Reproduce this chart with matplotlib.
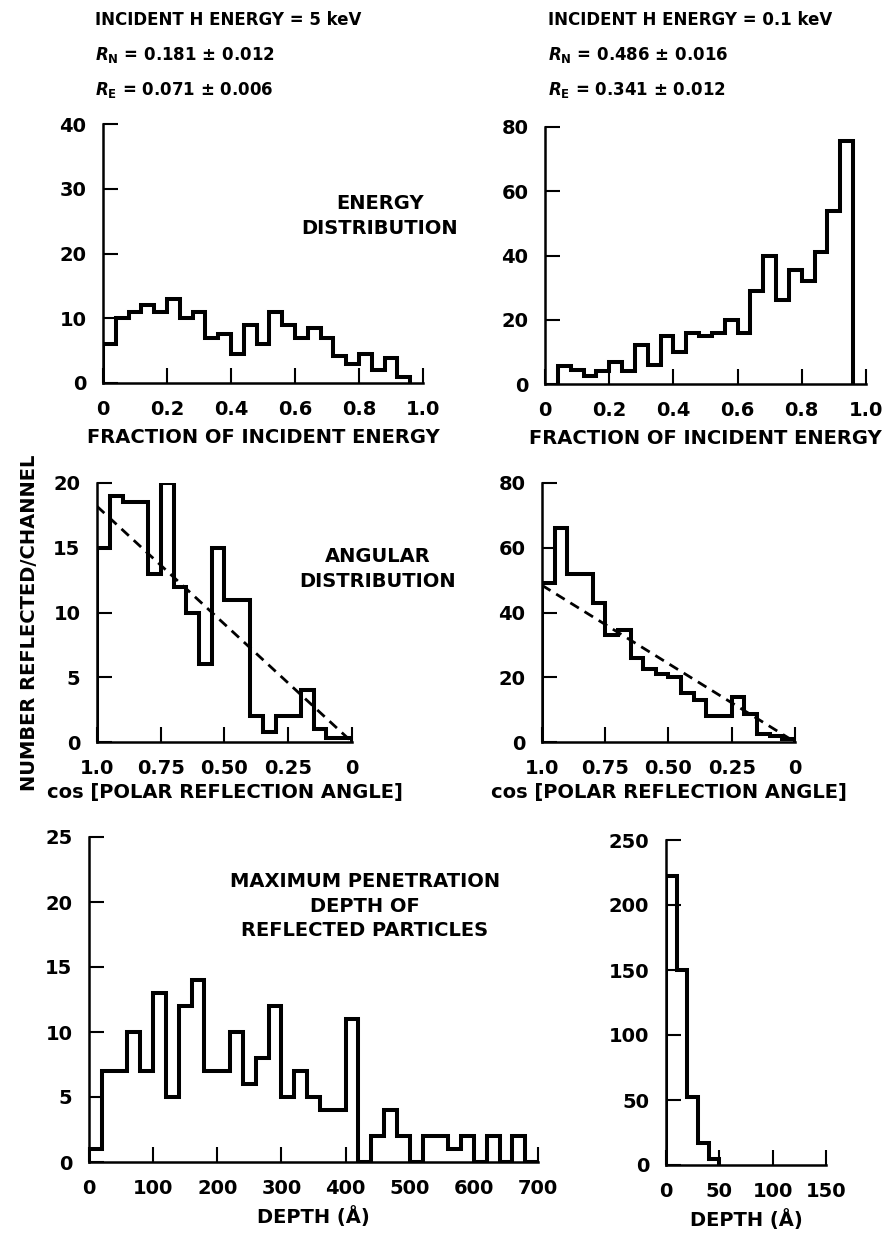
import numpy as np
import matplotlib.pyplot as plt
from matplotlib.ticker import FixedLocator, FixedFormatter

plt.rcParams['font.family'] = 'DejaVu Sans'
plt.rcParams['font.weight'] = 'bold'
plt.rcParams['mathtext.fontset'] = 'custom'
plt.rcParams['mathtext.rm'] = 'DejaVu Sans:bold'
plt.rcParams['mathtext.it'] = 'DejaVu Sans:italic:bold'

# energy spectra (counts per channel), channel width 0.04
energy_edges_5kev = np.linspace(0.0, 0.96, 25)
energy_counts_5kev = [6, 10, 11, 12, 11, 13, 10, 11, 7, 7.5, 4.5, 9,
                      6, 11, 9, 7, 8.5, 7, 4.2, 3, 4.5, 2, 3.8, 1]
energy_edges_01kev = np.linspace(0.04, 0.96, 24)
energy_counts_01kev = [5.5, 4.3, 2.5, 4, 7, 4, 12, 6, 15, 10, 16, 15,
                       16, 20, 16, 29, 40, 26, 35.5, 32, 41, 54, 75.5]

# angular spectra, listed from cos = 1.0 down to 0, channel width 0.05
cos_edges = np.linspace(1.0, 0.0, 21)
angle_counts_5kev = [15, 19, 18.5, 18.5, 13, 20, 12, 10, 6, 15,
                     11, 11, 2, 0.8, 2, 2, 4, 1, 0.3, 0.3]
angle_counts_01kev = [49, 66, 52, 52, 43, 33, 34.5, 26, 22.7, 21,
                      20, 15, 13, 8, 8, 14, 8.5, 2.5, 2, 1]
cosine_fit_5kev = 18.2
cosine_fit_01kev = 48.4

# maximum penetration depth, channel widths 20 A and 10 A
depth_edges_5kev = np.arange(0, 701, 20)
depth_counts_5kev = [1, 7, 7, 10, 7, 13, 5, 12, 14, 7, 7, 10, 6, 8, 12,
                     5, 7, 5, 4, 4, 11, 0, 2, 4, 2, 0, 2, 2, 1, 2, 0, 2,
                     0, 2, 0]
depth_edges_01kev = np.arange(0, 51, 10)
depth_counts_01kev = [222, 150, 52, 17, 5]

header_5kev = ['INCIDENT H ENERGY = 5 keV',
               r'$R_\mathrm{N}$ = 0.181 ± 0.012',
               r'$R_\mathrm{E}$ = 0.071 ± 0.006']
header_01kev = ['INCIDENT H ENERGY = 0.1 keV',
                r'$R_\mathrm{N}$ = 0.486 ± 0.016',
                r'$R_\mathrm{E}$ = 0.341 ± 0.012']

FS = 14
W, H = 887, 1240


def px_axes(fig, x0, x1, y0, y1):
    # axes box given in pixel coords from the top-left corner
    return fig.add_axes([x0 / W, 1 - y0 / H, (x1 - x0) / W, (y0 - y1) / H])


def px_text(fig, x, y, s, size=FS, **kw):
    return fig.text(x / W, 1 - y / H, s, fontsize=size, fontweight='bold', **kw)


def style(ax, xticks, xlabels, yticks, xlabel, labelpad=9):
    for s in ('top', 'right'):
        ax.spines[s].set_visible(False)
    for s in ('left', 'bottom'):
        ax.spines[s].set_linewidth(1.8)
    ax.xaxis.set_major_locator(FixedLocator(xticks))
    ax.xaxis.set_major_formatter(FixedFormatter(xlabels))
    ax.set_yticks(yticks)
    ax.tick_params(direction='in', length=11, width=1.5, labelsize=FS, pad=12)
    for lab in ax.get_xticklabels() + ax.get_yticklabels():
        lab.set_fontweight('bold')
    ax.set_xlabel(xlabel, fontsize=FS, fontweight='bold', labelpad=labelpad)


def hist(ax, counts, edges):
    ax.stairs(counts, edges, baseline=0, fill=False, color='black',
              linewidth=2.9, joinstyle='miter')


fig = plt.figure(figsize=(W / 100, H / 100), dpi=100)

# energy distributions
frac_ticks = [0, 0.2, 0.4, 0.6, 0.8, 1.0]
frac_labels = ['0', '0.2', '0.4', '0.6', '0.8', '1.0']

ax = px_axes(fig, 103, 423, 383, 124)
hist(ax, energy_counts_5kev, energy_edges_5kev)
ax.set_xlim(0, 1.0)
ax.set_ylim(0, 40)
style(ax, frac_ticks, frac_labels, [0, 10, 20, 30, 40],
      'FRACTION OF INCIDENT ENERGY', labelpad=7)
px_text(fig, 380, 216, 'ENERGY\nDISTRIBUTION', ha='center', va='center',
        linespacing=1.35)

ax = px_axes(fig, 545, 866, 384, 127)
hist(ax, energy_counts_01kev, energy_edges_01kev)
ax.set_xlim(0, 1.0)
ax.set_ylim(0, 80)
style(ax, frac_ticks, frac_labels, [0, 20, 40, 60, 80],
      'FRACTION OF INCIDENT ENERGY', labelpad=7)

# angular distributions with cosine fits
cos_ticks = [1.0, 0.75, 0.5, 0.25, 0]
cos_labels = ['1.0', '0.75', '0.50', '0.25', '0']
for (x0, x1), counts, fit, ymax, yt in [
        ((97, 352), angle_counts_5kev, cosine_fit_5kev, 20, [0, 5, 10, 15, 20]),
        ((542, 795), angle_counts_01kev, cosine_fit_01kev, 80, [0, 20, 40, 60, 80])]:
    ax = px_axes(fig, x0, x1, 742, 483)
    hist(ax, counts[::-1], cos_edges[::-1])
    ax.plot([1.0, 0.0], [fit, 0.0], color='black', linewidth=2.0,
            dashes=(3.6, 2.4))
    ax.set_xlim(1.0, 0)
    ax.set_ylim(0, ymax)
    style(ax, cos_ticks, cos_labels, yt, 'cos [POLAR REFLECTION ANGLE]',
          labelpad=4)

px_text(fig, 378, 569, 'ANGULAR\nDISTRIBUTION', ha='center', va='center',
        linespacing=1.35)

# penetration depth of reflected particles
ax = px_axes(fig, 89, 538, 1162, 837)
hist(ax, depth_counts_5kev, depth_edges_5kev)
ax.set_xlim(0, 700)
ax.set_ylim(0, 25)
style(ax, list(range(0, 701, 100)), [str(v) for v in range(0, 701, 100)],
      [0, 5, 10, 15, 20, 25], 'DEPTH (Å)', labelpad=6)
px_text(fig, 365, 906, 'MAXIMUM PENETRATION\nDEPTH OF\nREFLECTED PARTICLES',
        ha='center', va='center', linespacing=1.35)

ax = px_axes(fig, 666, 826, 1165, 840)
hist(ax, depth_counts_01kev, depth_edges_01kev)
ax.set_xlim(0, 150)
ax.set_ylim(0, 250)
style(ax, [0, 50, 100, 150], ['0', '50', '100', '150'],
      [0, 50, 100, 150, 200, 250], 'DEPTH (Å)', labelpad=6)

# run headers and shared y label
for x0, lines in [(95, header_5kev), (548, header_01kev)]:
    for i, line in enumerate(lines):
        px_text(fig, x0, 20 + 35 * i, line, size=12, va='center')

px_text(fig, 30, 623, 'NUMBER REFLECTED/CHANNEL', rotation=90,
        ha='center', va='center')

fig.savefig('out.png', dpi=100)
